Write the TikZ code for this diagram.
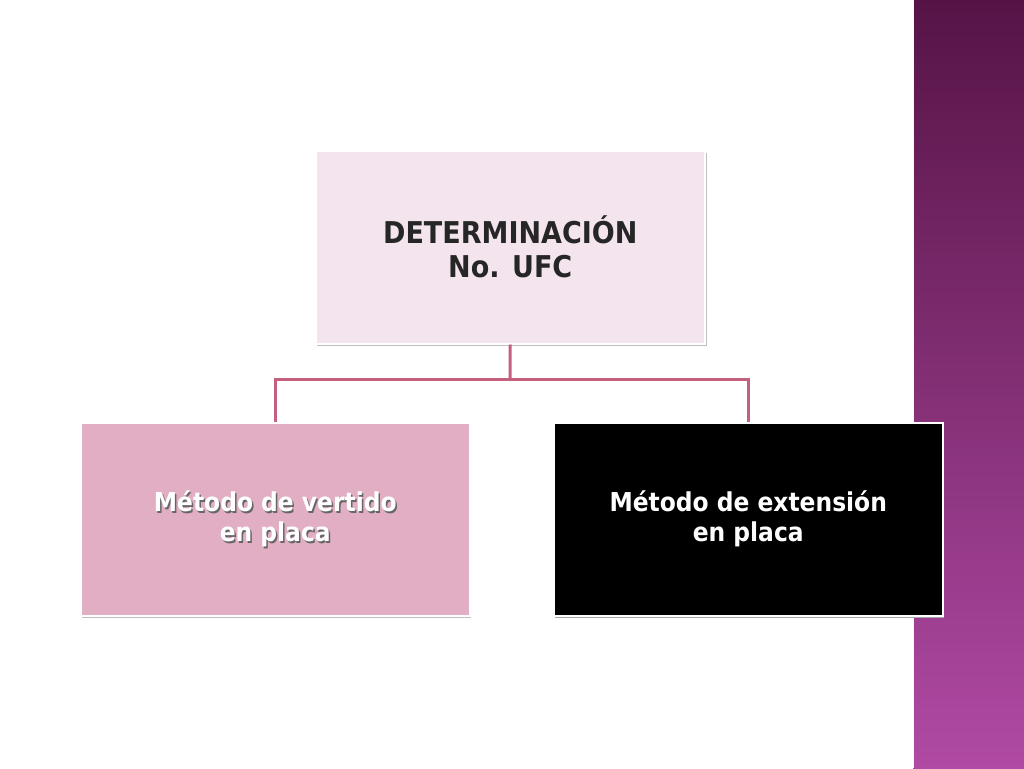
\documentclass[tikz,border=0pt]{standalone}
\usepackage{fontspec}
\setmainfont{DejaVu Sans Condensed}
\begin{document}
\begin{tikzpicture}[x=1pt,y=-1pt,
  box/.style={minimum width=389pt,minimum height=193pt,anchor=north west,inner sep=0pt,align=center,font=\bfseries\fontsize{26}{30}\selectfont},
  conn/.style={draw=lnk,line width=3pt}]
\definecolor{lnk}{HTML}{C4607E}
\definecolor{topf}{HTML}{F3E4EE}
\definecolor{leftf}{HTML}{E2AEC4}
\definecolor{stripa}{HTML}{561446}
\definecolor{stripb}{HTML}{B04AA4}
\useasboundingbox (0,0) rectangle (1024,768);
\fill[white] (0,0) rectangle (1024,768);
\shade[top color=stripa,bottom color=stripb] (913,0) rectangle (1024,768);
\draw[white!80!pink,line width=1pt] (913.5,0) -- (913.5,768);
% shadows
\fill[black!25] (317,153) rectangle (707,346);
\fill[black!25] (82,425) rectangle (471,618);
\fill[black!35] (555,425) rectangle (944,618);
\node[box,fill=topf,draw=white,line width=1.5pt,font=\bfseries\fontsize{30}{34}\selectfont,text=black!85] (top) at (315,150) {DETERMINACIÓN\\No. UFC};
\node[box,fill=leftf,draw=white,line width=1.5pt] (left) at (80,422) {};
\node[align=center,font=\bfseries\fontsize{26}{30}\selectfont,text=black!60] at ([shift={(1.5,1.5)}]left.center) {Método de vertido\\en placa};
\node[align=center,font=\bfseries\fontsize{26}{30}\selectfont,text=white] (lt) at (left.center) {Método de vertido\\en placa};
\node[box,fill=black,draw=white,line width=1.5pt,text=white] (right) at (553,422) {Método de extensión\\en placa};
\coordinate (j) at (510,379);
\draw[conn] (top.south) -- (j);
\draw[conn] (left.north) |- (j) -| (right.north);
\end{tikzpicture}
\end{document}
